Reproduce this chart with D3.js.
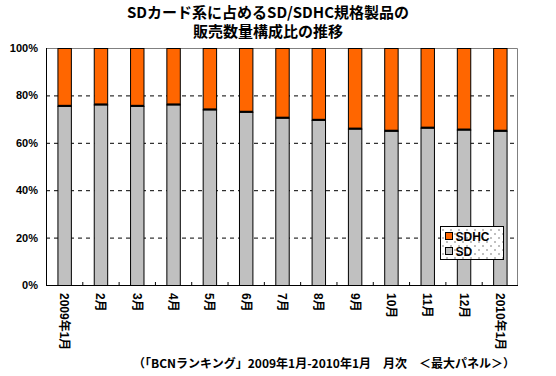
<!DOCTYPE html>
<html lang="ja">
<head>
<meta charset="UTF-8" />
<script src="https://d3js.org/d3.v7.min.js"></script>
<style>
  body { margin: 0; background: #fff; }
  svg { display: block; font-family: "Liberation Sans", "Noto Sans CJK JP", sans-serif; font-weight: bold; }
</style>
</head>
<body>
<svg id="chart"></svg>
<script>
const months = ["2009年1月", "2月", "3月", "4月", "5月", "6月", "7月", "8月", "9月", "10月", "11月", "12月", "2010年1月"];
const sdShare = [75.6, 76.2, 75.6, 76.2, 74.1, 73.1, 70.6, 69.7, 66.0, 65.1, 66.4, 65.6, 65.1];
const yTicks = [0, 20, 40, 60, 80, 100];

const width = 556, height = 376;
const margin = { top: 48, right: 38, bottom: 91, left: 46 };

const svg = d3.select("#chart").attr("width", width).attr("height", height);

const x = d3.scaleBand().domain(months).range([margin.left, width - margin.right]).paddingInner(0.63).paddingOuter(0.315);
const y = d3.scaleLinear().domain([0, 100]).range([height - margin.bottom, margin.top]);

const x0 = margin.left, x1 = width - margin.right;

// dashed grid
svg.append("g").selectAll("line")
  .data(yTicks.filter(t => t > 0 && t < 100))
  .join("line")
  .attr("x1", x0).attr("x2", x1)
  .attr("y1", d => y(d) + 0.5).attr("y2", d => y(d) + 0.5)
  .attr("stroke", "#000").attr("stroke-dasharray", "4,4");

// top and right frame (gray)
svg.append("path")
  .attr("d", `M${x0},${y(100) + 0.5}H${x1 - 0.5}V${y(0)}`)
  .attr("fill", "none").attr("stroke", "#808080");

// bars
const bars = svg.append("g").selectAll("g").data(months).join("g");
bars.append("rect")
  .attr("x", d => x(d) + 0.5)
  .attr("y", y(100) + 0.5)
  .attr("width", x.bandwidth())
  .attr("height", (d, i) => y(sdShare[i]) - y(100))
  .attr("fill", "#FF6600").attr("stroke", "#000");
bars.append("rect")
  .attr("x", d => x(d) + 0.5)
  .attr("y", (d, i) => y(sdShare[i]) + 0.5)
  .attr("width", x.bandwidth())
  .attr("height", (d, i) => y(0) - y(sdShare[i]))
  .attr("fill", "#C0C0C0").attr("stroke", "#000");
bars.append("line")
  .attr("x1", d => x(d) + 0.5).attr("x2", d => x(d) + x.bandwidth() + 0.5)
  .attr("y1", (d, i) => y(sdShare[i])).attr("y2", (d, i) => y(sdShare[i]))
  .attr("stroke", "#000").attr("stroke-width", 2);

// left axis
svg.append("line").attr("x1", x0 + 0.5).attr("x2", x0 + 0.5)
  .attr("y1", y(100)).attr("y2", y(0) + 0.5).attr("stroke", "#000");
svg.append("g").selectAll("text").data(yTicks).join("text")
  .attr("x", x0 - 8).attr("y", d => y(d) + 4)
  .attr("text-anchor", "end").attr("font-size", 11)
  .text(d => d + "%");

// bottom axis with ticks between categories
svg.append("line").attr("x1", x0).attr("x2", x1)
  .attr("y1", y(0) + 0.5).attr("y2", y(0) + 0.5).attr("stroke", "#000");
const step = x.step();
svg.append("g").selectAll("line").data(d3.range(1, months.length))
  .join("line")
  .attr("x1", i => x(months[i]) - step * 0.315 + 0.5)
  .attr("x2", i => x(months[i]) - step * 0.315 + 0.5)
  .attr("y1", y(0) - 3).attr("y2", y(0))
  .attr("stroke", "#000");

// x labels rotated
svg.append("g").selectAll("text").data(months).join("text")
  .attr("transform", d => `translate(${x(d) + x.bandwidth() / 2 - 4},${y(0) + 8}) rotate(90)`)
  .attr("font-size", 12)
  .text(d => d);

// legend
const defs = svg.append("defs");
const pat = defs.append("pattern").attr("id", "dots").attr("width", 8).attr("height", 8)
  .attr("patternUnits", "userSpaceOnUse");
pat.append("rect").attr("width", 8).attr("height", 8).attr("fill", "#fff");
pat.append("rect").attr("x", 2).attr("y", 3).attr("width", 1).attr("height", 1).attr("fill", "#000");
pat.append("rect").attr("x", 6).attr("y", 7).attr("width", 1).attr("height", 1).attr("fill", "#000");

const leg = svg.append("g").attr("transform", "translate(440.5,226.5)");
leg.append("rect").attr("width", 63).attr("height", 33).attr("fill", "url(#dots)").attr("stroke", "#000");
const legItems = [["SDHC", "#FF6600"], ["SD", "#C0C0C0"]];
legItems.forEach((it, i) => {
  leg.append("rect").attr("x", 5).attr("y", 6 + i * 15).attr("width", 7).attr("height", 7)
    .attr("fill", it[1]).attr("stroke", "#000");
  leg.append("text").attr("x", 15).attr("y", 14 + i * 15).attr("font-size", 12).text(it[0]);
});

// title
const title = svg.append("g").attr("font-family", "'Noto Sans CJK JP', sans-serif")
  .attr("font-size", 15).attr("text-anchor", "middle");
title.append("text").attr("x", 268).attr("y", 18).text("SDカード系に占めるSD/SDHC規格製品の");
title.append("text").attr("x", 268).attr("y", 37).text("販売数量構成比の推移");

// source note
svg.append("text").attr("x", 515).attr("y", 368).attr("text-anchor", "end")
  .attr("font-family", "'Noto Sans CJK JP', sans-serif").attr("font-size", 12)
  .text("（「BCNランキング」2009年1月-2010年1月　月次　＜最大パネル＞）");
</script>
</body>
</html>
